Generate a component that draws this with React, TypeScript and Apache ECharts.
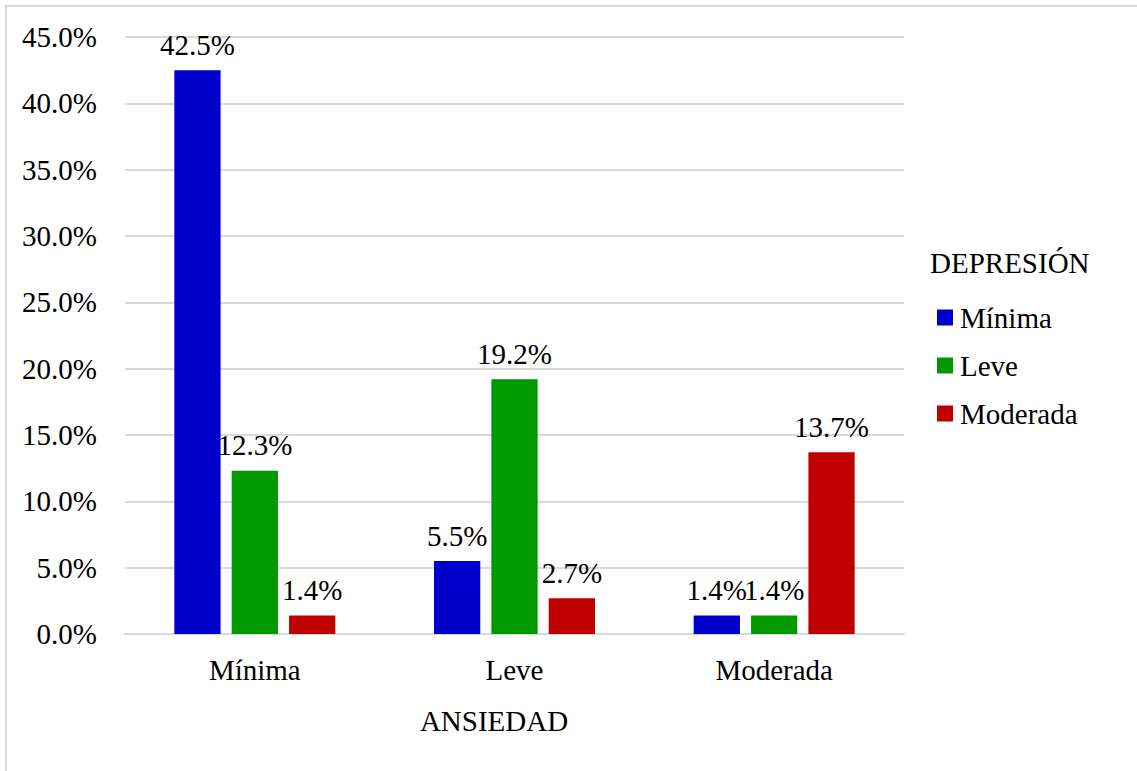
import React, { useEffect, useRef } from "react";
import * as echarts from "echarts";

const categories = ["Mínima", "Leve", "Moderada"];
const seriesNames = ["Mínima", "Leve", "Moderada"];
const minimaValues = [42.5, 5.5, 1.4];
const leveValues = [12.3, 19.2, 1.4];
const moderadaValues = [1.4, 2.7, 13.7];
const colors = ["#0000CC", "#009900", "#C00000"];

const FONT = "Liberation Serif";
const FS = 29;

export default function App() {
  const ref = useRef<HTMLDivElement>(null);

  useEffect(() => {
    if (!ref.current) return;
    const chart = echarts.init(ref.current, undefined, { renderer: "svg" });
    const values = [minimaValues, leveValues, moderadaValues];
    chart.setOption({
      animation: false,
      backgroundColor: "#ffffff",
      textStyle: { fontFamily: FONT },
      grid: { left: 125, right: 233, top: 37, bottom: 137 },
      legend: {
        orient: "vertical",
        left: 937,
        top: 303,
        padding: 0,
        itemWidth: 16,
        itemHeight: 16,
        itemGap: 19,
        icon: "rect",
        textStyle: { fontFamily: FONT, fontSize: FS, color: "#000", padding: [0, 0, 0, 2] },
        data: seriesNames,
      },
      xAxis: {
        type: "category",
        data: categories,
        axisLine: { lineStyle: { color: "#d9d9d9", width: 2 } },
        axisTick: { show: false },
        axisLabel: { fontFamily: FONT, fontSize: FS, color: "#000", margin: 21 },
      },
      yAxis: {
        type: "value",
        min: 0,
        max: 45,
        interval: 5,
        axisLine: { show: false },
        axisTick: { show: false },
        splitLine: { lineStyle: { color: "#d9d9d9", width: 2 } },
        axisLabel: {
          fontFamily: FONT,
          fontSize: FS,
          color: "#000",
          margin: 28,
          formatter: (v: number) => v.toFixed(1) + "%",
        },
      },
      series: seriesNames.map((name, i) => ({
        name,
        type: "bar",
        data: values[i],
        barGap: "24%",
        barCategoryGap: "38%",
        itemStyle: { color: colors[i] },
        label: {
          show: true,
          position: "top",
          distance: 11,
          fontFamily: FONT,
          fontSize: FS,
          color: "#000",
          formatter: (p: any) => p.value.toFixed(1) + "%",
        },
      })),
      graphic: [
        {
          type: "rect",
          shape: { x: 6, y: 6, width: 1200, height: 900 },
          style: { fill: "none", stroke: "#d9d9d9", lineWidth: 2 },
          silent: true,
        },
        {
          type: "text",
          x: 494,
          y: 721,
          style: {
            text: "ANSIEDAD",
            fontFamily: FONT,
            fontSize: FS,
            fill: "#000",
            align: "center",
            verticalAlign: "middle",
          },
        },
        {
          type: "text",
          x: 930,
          y: 263,
          style: {
            text: "DEPRESIÓN",
            fontFamily: FONT,
            fontSize: FS,
            fill: "#000",
            align: "left",
            verticalAlign: "middle",
          },
        },
      ],
    });
    return () => chart.dispose();
  }, []);

  return (
    <div
      ref={ref}
      style={{ position: "fixed", left: 0, top: 0, width: 1137, height: 771 }}
    />
  );
}
